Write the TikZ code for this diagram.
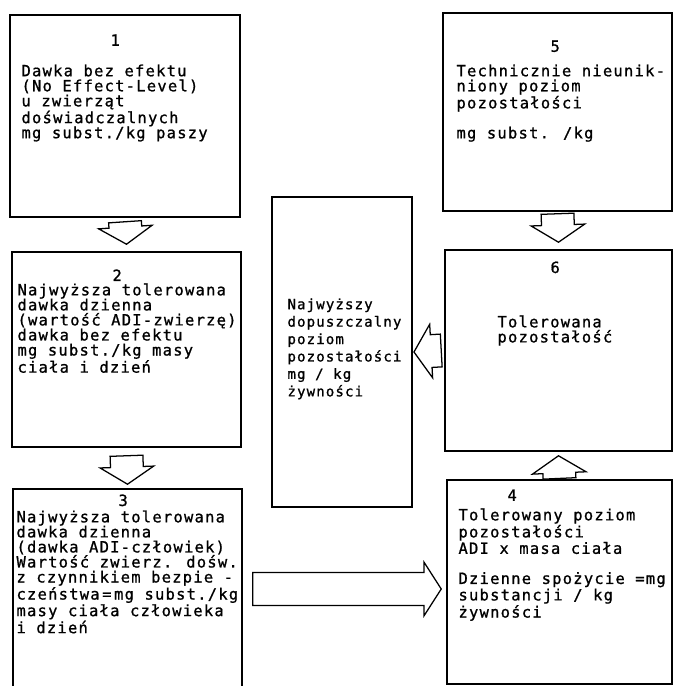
\documentclass[tikz,border=0pt]{standalone}
\usepackage{fontspec}
\newfontfamily\plotfont[LetterSpace=8,FakeBold=1]{DejaVu Sans Mono}
\usetikzlibrary{calc,positioning}
\newcommand\arrshaft{0.41cm}
\newcommand\arrhead{0.67cm}
\newcommand\arrlen{0.43cm}
% hollow block arrow from #1 to #2
\newcommand\fatarrow[2]{%
  \coordinate (fa) at ($(#2)!\arrlen!(#1)$);
  \draw[fat] ($(#1)!\arrshaft!90:(#2)$) -- ($(fa)!\arrshaft!90:(#2)$) -- ($(fa)!\arrhead!90:(#2)$) -- (#2)
    -- ($(fa)!\arrhead!-90:(#2)$) -- ($(fa)!\arrshaft!-90:(#2)$) -- ($(#1)!\arrshaft!-90:(#2)$) -- cycle;}

\begin{document}
\begin{tikzpicture}[
  box/.style={draw,line width=1.1pt,inner sep=0pt},
  fat/.style={draw,line width=0.9pt,line join=miter},
  txt/.style={font=\plotfont\fontsize{11}{10.7}\selectfont,align=left,inner sep=0pt},
  ctxt/.style={font=\plotfont\fontsize{10}{12.4}\selectfont,align=left,inner sep=0pt},
  num/.style={font=\plotfont\fontsize{11}{10.7}\selectfont,inner sep=0pt}]
  \useasboundingbox (0,0) rectangle (16.85,17.15);

  % boxes
  \node[box,minimum width=5.75cm,minimum height=5.05cm] (b1) at (3.125,14.25) {};
  \node[box,minimum width=5.725cm,minimum height=4.875cm] (b2) at (3.1625,8.4125) {};
  \node[box,minimum width=5.725cm,minimum height=5.3cm] (b3) at (3.1875,2.275) {};
  \node[box,minimum width=5.725cm,minimum height=4.95cm] (b5) at (13.9375,14.35) {};
  \node[box,minimum width=5.675cm,minimum height=5.025cm] (b6) at (13.9625,8.3875) {};
  \node[box,minimum width=5.625cm,minimum height=5.1cm] (b4) at (13.9875,2.6) {};
  \node[box,minimum width=3.5cm,minimum height=7.75cm] (bc) at (8.55,8.35) {};

  % texts
  \node[num,below right=0.5cm and 2.525cm of b1.north west] (n1) {1};
  \node[txt,below right=1.25cm and 0.3cm of b1.north west] (t1) {Dawka bez efektu\\(No Effect-Level)\\u zwierząt\\doświadczalnych\\mg subst./kg paszy};
  \node[num,below right=0.45cm and 2.525cm of b2.north west] (n2) {2};
  \node[txt,below right=0.8cm and 0.15cm of b2.north west] (t2) {Najwyższa tolerowana\\dawka dzienna\\(wartość ADI-zwierzę)\\dawka bez efektu\\mg subst./kg masy\\ciała i dzień};
  \node[num,below right=0.15cm and 2.65cm of b3.north west] (n3) {3};
  \node[txt,below right=0.55cm and 0.1cm of b3.north west] (t3) {Najwyższa tolerowana\\dawka dzienna\\(dawka ADI-człowiek)\\Wartość zwierz. dośw.\\z czynnikiem bezpie -\\czeństwa\,=\,mg subst./kg\\masy ciała człowieka\\i dzień};
  \node[num,below right=0.7cm and 2.7cm of b5.north west] (n5) {5};
  \node[txt,below right=1.3cm and 0.35cm of b5.north west] (t5) {Technicznie nieunik-\\niony poziom\\pozostałości\\[10.7pt]mg subst. /kg};
  \node[num,below right=0.3cm and 2.65cm of b6.north west] (n6) {6};
  \node[txt,below right=1.65cm and 1.325cm of b6.north west] (t6) {Tolerowana\\pozostałość};
  \node[num,below right=0.25cm and 1.525cm of b4.north west] (n4) {4};
  \node[txt,below right=0.725cm and 0.3cm of b4.north west] (t4) {Tolerowany poziom\\pozostałości\\ADI x masa ciała\\[10.7pt]Dzienne spożycie =mg\\substancji / kg\\żywności};
  \node[ctxt,below right=2.55cm and 0.4cm of bc.north west] (tc) {Najwyższy\\dopuszczalny\\poziom\\pozostałości\\mg / kg\\żywności};

  % arrows
  \coordinate[below=0.1cm of b1.south] (a1);
  \coordinate[above=0.175cm of b2.north] (a2);
  \fatarrow{a1}{a2}
  \coordinate[below=0.2cm of b2.south] (a3);
  \coordinate[above=0.1cm of b3.north] (a4);
  \fatarrow{a3}{a4}
  \coordinate[below=0.05cm of b5.south] (a5);
  \coordinate[above=0.175cm of b6.north] (a6);
  \fatarrow{a5}{a6}
  \coordinate[above=0.02cm of b4.north] (a7);
  \coordinate[below=0.1cm of b6.south] (a8);
  \fatarrow{a7}{a8}
  \coordinate[left=0.075cm of b6.west] (a9);
  \coordinate[right=0.03cm of bc.east] (a10);
  \fatarrow{a9}{a10}
  \coordinate (a11) at ($(b3.east)+(0.25,0.15)$);
  \coordinate (a12) at ($(a11 -| b4.west)+(-0.125,0)$);
  \fatarrow{a11}{a12}
\end{tikzpicture}
\end{document}
